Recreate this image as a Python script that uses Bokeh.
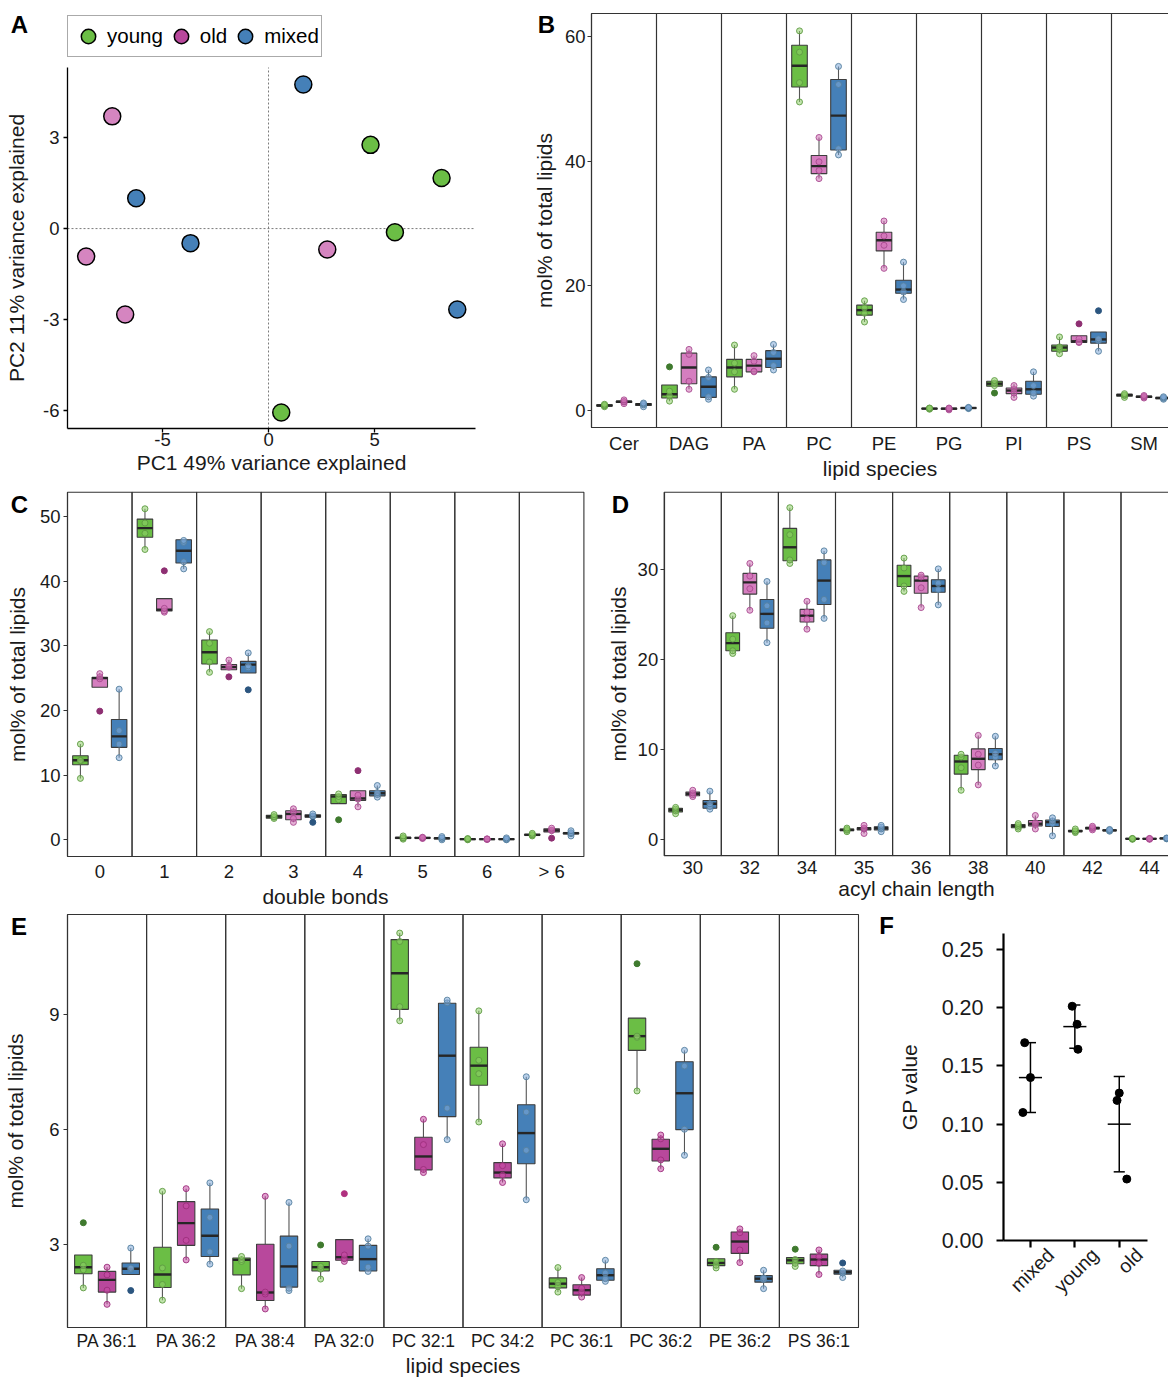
import math
import numpy as np
from bokeh.plotting import figure
from bokeh.layouts import row, column
from bokeh.models import (Range1d, FixedTicker, Label, Legend, LegendItem, LinearAxis,
                          NumeralTickFormatter, ColumnDataSource, BoxAnnotation)
from bokeh.embed import file_html
from bokeh.resources import INLINE

# ======================= DATA =======================
GROUPS = ["young", "old", "mixed"]

# ---- A: PCA scores
A_young_pc1 = [4.81, 8.16, 5.96, 0.60]
A_young_pc2 = [2.76, 1.67, -0.12, -6.06]
A_old_pc1 = [-7.37, -8.60, 2.77, -6.76]
A_old_pc2 = [3.70, -0.92, -0.69, -2.83]
A_mixed_pc1 = [1.64, -6.24, -3.68, 8.90]
A_mixed_pc2 = [4.75, 1.00, -0.48, -2.67]
A_xticks = [-5, 0, 5]
A_yticks = [-6, -3, 0, 3]

# ---- B: lipid classes  (box stats = [lower whisker, Q1, median, Q3, upper whisker])
B_categories = ["Cer", "DAG", "PA", "PC", "PE", "PG", "PI", "PS", "SM"]
B_young_stats = [[0.6, 0.7, 0.8, 0.9, 1.0], [1.5, 2.0, 2.6, 4.1, 4.1], [3.4, 5.4, 6.9, 8.2, 10.5],
                 [49.5, 51.9, 55.3, 58.6, 60.9], [14.2, 15.3, 16.1, 16.9, 17.6], [0.2, 0.25, 0.3, 0.35, 0.4],
                 [3.9, 3.9, 4.3, 4.7, 4.8], [9.1, 9.5, 10.1, 10.5, 11.8], [2.1, 2.3, 2.5, 2.6, 2.7]]
B_old_stats = [[1.1, 1.3, 1.4, 1.5, 1.7], [3.4, 4.3, 6.9, 9.2, 9.8], [6.2, 6.2, 7.2, 8.2, 8.8],
               [37.2, 38.0, 39.2, 40.9, 43.8], [22.8, 25.6, 27.3, 28.6, 30.4], [0.1, 0.2, 0.3, 0.35, 0.4],
               [2.0, 2.7, 3.2, 3.6, 4.2], [10.9, 10.9, 11.1, 12.0, 12.0], [2.0, 2.1, 2.2, 2.3, 2.4]]
B_mixed_stats = [[0.6, 0.8, 1.0, 1.1, 1.2], [1.8, 2.1, 3.8, 5.4, 6.5], [6.5, 6.9, 8.3, 9.6, 10.6],
                 [41.0, 41.8, 47.3, 53.1, 55.2], [17.8, 18.8, 19.4, 20.9, 23.8], [0.3, 0.35, 0.4, 0.45, 0.5],
                 [2.3, 2.6, 3.4, 4.7, 6.2], [9.5, 10.8, 11.4, 12.6, 12.6], [1.8, 1.9, 2.0, 2.1, 2.2]]
B_young_points = [[0.6, 0.75, 0.85, 1.0], [1.5, 2.3, 3.1], [3.4, 6.2, 7.6, 10.5], [49.5, 52.6, 57.5, 60.9],
                  [14.2, 15.6, 16.5, 17.6], [0.2, 0.3, 0.35, 0.4], [4.0, 4.4, 4.8], [9.1, 9.8, 10.2, 11.8],
                  [2.1, 2.4, 2.5, 2.7]]
B_old_points = [[1.1, 1.35, 1.45, 1.7], [3.4, 4.7, 9.0, 9.8], [6.2, 6.3, 7.9, 8.8], [37.2, 38.5, 39.9, 43.8],
                [22.8, 26.5, 28.0, 30.4], [0.1, 0.25, 0.3, 0.4], [2.1, 2.8, 3.4, 4.0], [10.9, 11.0, 11.5],
                [2.0, 2.15, 2.25, 2.4]]
B_mixed_points = [[0.6, 0.9, 1.05, 1.2], [1.8, 2.2, 5.3, 6.5], [6.5, 7.2, 9.3, 10.6], [41.0, 42.0, 52.3, 55.2],
                  [17.8, 19.0, 20.0, 23.8], [0.3, 0.38, 0.42, 0.5], [2.3, 2.8, 4.0, 6.2], [9.5, 11.2, 11.5],
                  [1.8, 1.95, 2.05, 2.2]]
B_young_outliers = [[], [7.0], [], [], [], [], [2.8], [], []]
B_old_outliers = [[], [], [], [], [], [], [], [13.9], []]
B_mixed_outliers = [[], [], [], [], [], [], [], [16.0], []]
B_yticks = [0, 20, 40, 60]

# ---- C: double bonds
C_categories = ["0", "1", "2", "3", "4", "5", "6", "> 6"]
C_young_stats = [[9.5, 11.6, 12.3, 13.0, 14.8], [44.9, 46.8, 48.2, 49.6, 51.2], [25.9, 27.2, 29.0, 30.9, 32.2],
                 [3.3, 3.35, 3.6, 3.8, 3.9], [5.6, 5.6, 6.7, 7.0, 7.1], [0.1, 0.2, 0.3, 0.4, 0.6],
                 [0.0, 0.05, 0.1, 0.15, 0.2], [0.6, 0.7, 0.77, 0.85, 1.0]]
C_old_stats = [[23.6, 23.6, 25.0, 25.15, 25.8], [35.2, 35.4, 35.6, 37.3, 37.3], [26.3, 26.3, 26.7, 27.1, 27.8],
               [2.7, 3.1, 4.0, 4.5, 4.9], [5.1, 6.1, 6.4, 7.6, 7.6], [0.2, 0.25, 0.3, 0.35, 0.4],
               [0.05, 0.08, 0.1, 0.12, 0.15], [1.2, 1.2, 1.45, 1.7, 1.9]]
C_mixed_stats = [[12.7, 14.3, 16.0, 18.6, 23.3], [41.9, 42.8, 44.7, 46.4, 46.5], [25.8, 25.8, 27.1, 27.6, 28.9],
                 [3.5, 3.5, 3.66, 3.87, 4.1], [6.6, 6.8, 7.2, 7.6, 8.4], [0.0, 0.15, 0.25, 0.3, 0.5],
                 [0.0, 0.05, 0.1, 0.15, 0.3], [0.6, 0.9, 1.03, 1.1, 1.4]]
C_young_points = [[9.5, 12.2, 12.3, 14.8], [44.9, 47.4, 49.0, 51.2], [25.9, 27.5, 30.4, 32.2], [3.3, 3.5, 3.6, 3.9],
                  [6.2, 6.7, 7.1], [0.1, 0.25, 0.35, 0.6], [0.0, 0.08, 0.12, 0.2], [0.6, 0.72, 0.8, 1.0]]
C_old_points = [[24.9, 25.2, 25.7], [35.2, 35.4, 35.8], [26.7, 26.9, 27.8], [2.7, 3.3, 4.3, 4.8],
                [5.1, 6.3, 6.9], [0.2, 0.28, 0.32, 0.4], [0.05, 0.09, 0.11, 0.15], [1.4, 1.5, 1.8]]
C_mixed_points = [[12.7, 14.8, 16.9, 23.3], [41.9, 43.0, 46.0, 46.3], [26.6, 26.9, 28.9], [3.6, 3.7, 4.0],
                  [6.6, 7.0, 7.3, 8.4], [0.0, 0.2, 0.28, 0.5], [0.0, 0.08, 0.12, 0.3], [0.6, 0.95, 1.1, 1.4]]
C_young_outliers = [[], [], [], [], [3.1], [], [], []]
C_old_outliers = [[19.9], [41.6], [25.2], [], [10.7], [], [], [0.26]]
C_mixed_outliers = [[], [], [23.2], [2.7], [], [], [], []]
C_yticks = [0, 10, 20, 30, 40, 50]

# ---- D: acyl chain length
D_categories = ["30", "32", "34", "35", "36", "38", "40", "42", "44"]
D_young_stats = [[2.9, 3.1, 3.33, 3.5, 3.6], [20.7, 21.0, 21.85, 23.0, 24.9], [30.7, 31.0, 32.5, 34.6, 36.9],
                 [0.9, 1.0, 1.1, 1.2, 1.3], [27.6, 28.15, 29.3, 30.5, 31.3], [5.5, 7.3, 8.7, 9.4, 9.5],
                 [1.2, 1.33, 1.52, 1.7, 1.8], [0.8, 0.9, 0.96, 1.05, 1.2], [0.05, 0.08, 0.11, 0.13, 0.15]]
D_old_stats = [[4.8, 4.9, 5.1, 5.3, 5.5], [25.5, 27.3, 28.6, 29.6, 30.7], [23.4, 24.2, 24.9, 25.6, 26.5],
               [0.7, 1.1, 1.25, 1.35, 1.6], [25.8, 27.4, 28.8, 29.3, 29.4], [6.1, 7.8, 9.0, 10.1, 11.6],
               [1.2, 1.55, 1.78, 2.15, 2.7], [1.1, 1.2, 1.3, 1.4, 1.5], [0.05, 0.08, 0.11, 0.13, 0.15]]
D_mixed_stats = [[3.4, 3.5, 4.0, 4.37, 5.4], [21.9, 23.5, 25.1, 26.7, 28.7], [24.6, 26.15, 28.8, 31.1, 32.1],
                 [0.9, 1.1, 1.3, 1.45, 1.6], [26.1, 27.5, 28.2, 28.9, 30.1], [8.2, 8.9, 9.5, 10.15, 11.5],
                 [0.44, 1.48, 1.96, 2.2, 2.44], [0.95, 1.0, 1.04, 1.1, 1.15], [0.1, 0.12, 0.15, 0.18, 0.2]]
D_young_points = [[2.9, 3.2, 3.4, 3.6], [20.7, 21.0, 22.3, 24.9], [30.7, 31.1, 33.9, 36.9], [0.9, 1.05, 1.15, 1.3],
                  [27.6, 28.2, 30.2, 31.3], [5.5, 8.0, 9.2, 9.5], [1.2, 1.4, 1.6, 1.8], [0.8, 0.92, 1.0, 1.2],
                  [0.05, 0.1, 0.12, 0.15]]
D_old_points = [[4.8, 5.0, 5.2, 5.5], [25.5, 27.9, 29.3, 30.7], [23.4, 24.5, 25.3, 26.5], [0.7, 1.2, 1.3, 1.6],
                [25.8, 28.0, 29.2, 29.4], [6.1, 8.3, 9.5, 11.6], [1.2, 1.7, 1.9, 2.7], [1.1, 1.25, 1.35, 1.5],
                [0.05, 0.1, 0.12, 0.15]]
D_mixed_points = [[3.4, 3.7, 4.0, 5.4], [21.9, 24.1, 26.0, 28.7], [24.6, 26.7, 30.8, 32.1], [0.9, 1.2, 1.4, 1.6],
                  [26.1, 27.8, 28.5, 30.1], [8.2, 9.2, 9.6, 11.5], [0.44, 1.8, 2.1, 2.44], [0.95, 1.02, 1.08, 1.15],
                  [0.1, 0.14, 0.16, 0.2]]
D_young_outliers = [[] for _ in D_categories]
D_old_outliers = [[] for _ in D_categories]
D_mixed_outliers = [[] for _ in D_categories]
D_yticks = [0, 10, 20, 30]

# ---- E: individual lipid species
E_categories = ["PA 36:1", "PA 36:2", "PA 38:4", "PA 32:0", "PC 32:1", "PC 34:2", "PC 36:1", "PC 36:2",
                "PE 36:2", "PS 36:1"]
E_young_stats = [[1.86, 2.23, 2.40, 2.72, 2.72], [1.54, 1.87, 2.21, 2.92, 4.38], [1.84, 2.2, 2.59, 2.64, 2.69],
                 [2.09, 2.3, 2.4, 2.55, 2.55], [8.83, 9.13, 10.07, 10.95, 11.12], [6.19, 7.15, 7.66, 8.14, 9.09],
                 [1.75, 1.86, 1.97, 2.12, 2.39], [7.0, 8.06, 8.43, 8.9, 8.9], [2.38, 2.44, 2.51, 2.62, 2.62],
                 [2.42, 2.49, 2.58, 2.65, 2.65]]
E_old_stats = [[1.43, 1.75, 2.07, 2.29, 2.40], [2.59, 2.97, 3.55, 4.11, 4.45], [1.31, 1.53, 1.74, 3.0, 4.25],
               [2.55, 2.58, 2.66, 3.12, 3.12], [4.87, 4.94, 5.29, 5.79, 6.26], [4.61, 4.73, 4.87, 5.13, 5.62],
               [1.62, 1.67, 1.8, 1.94, 2.13], [4.97, 5.17, 5.49, 5.74, 5.85], [2.52, 2.76, 3.07, 3.32, 3.4],
               [2.21, 2.44, 2.6, 2.74, 2.85]]
E_mixed_stats = [[2.21, 2.21, 2.36, 2.51, 2.9], [2.48, 2.68, 3.22, 3.92, 4.6], [1.79, 1.88, 2.42, 3.21, 4.09],
                 [2.29, 2.3, 2.61, 2.97, 3.14], [5.73, 6.33, 7.92, 9.29, 9.37], [4.16, 5.1, 5.9, 6.64, 7.37],
                 [2.03, 2.06, 2.19, 2.36, 2.58], [5.32, 5.99, 6.94, 7.76, 8.06], [1.84, 2.01, 2.1, 2.18, 2.32],
                 [2.13, 2.22, 2.27, 2.32, 2.32]]
E_young_points = [[1.86, 2.33, 2.45], [1.54, 1.95, 2.38, 4.38], [1.84, 2.55, 2.6, 2.68], [2.09, 2.35, 2.42],
                  [8.83, 9.2, 10.9, 11.12], [6.19, 7.45, 7.8, 9.09], [1.75, 1.9, 2.0, 2.39], [7.0, 8.4, 8.43],
                  [2.38, 2.45, 2.55], [2.42, 2.5, 2.6]]
E_old_points = [[1.43, 1.8, 2.2, 2.4], [2.59, 3.1, 4.0, 4.45], [1.31, 1.7, 1.75, 4.25], [2.55, 2.62, 2.72],
                [4.87, 4.95, 5.6, 6.26], [4.61, 4.8, 5.05, 5.62], [1.62, 1.75, 1.85, 2.13], [4.97, 5.2, 5.75, 5.85],
                [2.52, 2.85, 3.3, 3.4], [2.21, 2.5, 2.68, 2.85]]
E_mixed_points = [[2.35, 2.38, 2.9], [2.48, 2.8, 3.7, 4.6], [1.79, 1.85, 2.95, 4.09], [2.29, 2.4, 2.95, 3.14],
                  [5.73, 6.55, 9.3, 9.37], [4.16, 5.45, 6.45, 7.37], [2.03, 2.1, 2.25, 2.58], [5.32, 6.0, 7.65, 8.06],
                  [1.84, 2.08, 2.12, 2.32], [2.13, 2.25, 2.3]]
E_young_outliers = [[3.56], [], [], [2.98], [], [], [], [10.32], [2.92], [2.87]]
E_old_outliers = [[], [], [], [4.32], [], [], [], [], [], []]
E_mixed_outliers = [[1.79], [], [], [], [], [], [], [], [], [2.51]]
E_yticks = [3, 6, 9]

# ---- F: GP values
F_groups = ["mixed", "young", "old"]
F_mixed = [0.110, 0.170, 0.140]
F_young = [0.2013, 0.1858, 0.1643]
F_old = [0.1204, 0.1267, 0.0528]
F_yticks = [0.0, 0.05, 0.10, 0.15, 0.20, 0.25]

# ======================= STYLE =======================
FONT = "Liberation Sans"
TXT = "#1a1a1a"
LINE = "#333333"
GREEN = "#6BBE45"
PINK_LIGHT = "#D57EBF"
PINK = "#B8489C"
BLUE = "#4580B8"


def make_fig(box, frame, xd, yd):
    """box = (left, top, width, height) on the page; frame = (left, right, top, bottom) pixel
    position of the data area on the page; the plotting frame fills the whole canvas."""
    L, T, W, H = box
    fl, fr, ft, fb = frame
    kx = (xd[1] - xd[0]) / (fr - fl)
    ky = (yd[1] - yd[0]) / (fb - ft)
    xr = Range1d(xd[0] - (fl - L) * kx, xd[1] + (L + W - fr) * kx)
    yr = Range1d(yd[0] - (T + H - fb) * ky, yd[1] + (ft - T) * ky)
    p = figure(width=W, height=H, x_range=xr, y_range=yr, output_backend="svg", toolbar_location=None,
               min_border_left=0, min_border_right=0, min_border_top=0, min_border_bottom=0)
    p.xgrid.visible = False
    p.ygrid.visible = False
    p.outline_line_color = None
    p.background_fill_color = "white"
    p.border_fill_color = "white"
    p.xaxis.fixed_location = yd[0]
    p.xaxis.bounds = tuple(xd)
    p.yaxis.fixed_location = xd[0]
    p.yaxis.bounds = tuple(yd)
    return p


def style_axis(ax, tick_fs="18.5px", label_fs="21px", color=LINE, lw=1.2, tick_out=4, standoff=2, lstand=2):
    ax.axis_line_color = color
    ax.axis_line_width = lw
    ax.major_tick_line_color = color
    ax.major_tick_line_width = lw
    ax.major_tick_out = int(round(tick_out))
    ax.major_tick_in = 0
    ax.minor_tick_line_color = None
    ax.major_label_text_font = FONT
    ax.major_label_text_font_size = tick_fs
    ax.major_label_text_color = TXT
    ax.major_label_standoff = int(round(standoff))
    ax.axis_label_text_font = FONT
    ax.axis_label_text_font_size = label_fs
    ax.axis_label_text_font_style = "normal"
    ax.axis_label_text_color = TXT
    ax.axis_label_standoff = int(round(lstand))


def add_letter(p, box, letter, px, py):
    L, T, W, H = box
    p.add_layout(Label(x=px - L, y=T + H - py, x_units="screen", y_units="screen", text=letter,
                       text_font=FONT, text_font_size="24px", text_font_style="bold",
                       text_color="black", text_align="center", text_baseline="middle"))


def facet_panel(box, frame, cats, stats, pts, outs, box_cols, pt_fill, pt_line, out_fill,
                yd, n_facets, yticks, xlabel, xtick_fs, bw, xstand, xlstand, ystand, ylstand):
    n = len(cats)
    p = make_fig(box, frame, (0, n_facets), yd)
    offs = [0.2, 0.5, 0.8]
    for i in range(n_facets):
        p.add_layout(BoxAnnotation(left=i, right=i + 1, bottom=yd[0], top=yd[1], fill_color=None,
                                   line_color=LINE, line_alpha=1.0, line_width=1.1))
    for g in range(3):
        xs = [i + offs[g] for i in range(n)]
        src = ColumnDataSource(dict(
            x=xs, x0=[x - bw / 2 for x in xs], x1=[x + bw / 2 for x in xs],
            lo=[s[0] for s in stats[g]], q1=[s[1] for s in stats[g]], med=[s[2] for s in stats[g]],
            q3=[s[3] for s in stats[g]], hi=[s[4] for s in stats[g]]))
        p.segment("x", "q3", "x", "hi", source=src, line_color="#555555", line_width=1.1)
        p.segment("x", "lo", "x", "q1", source=src, line_color="#555555", line_width=1.1)
        p.vbar(x="x", width=bw, bottom="q1", top="q3", source=src, fill_color=box_cols[g],
               line_color="#3d3d3d", line_width=1.1)
        p.segment("x0", "med", "x1", "med", source=src, line_color="#262626", line_width=2.4)
        px, py = [], []
        for i in range(n):
            for v in pts[g][i]:
                px.append(xs[i]); py.append(v)
        p.scatter(px, py, size=6, fill_color=pt_fill[g], fill_alpha=0.55, line_color=pt_line[g],
                  line_alpha=0.9, line_width=1)
        ox, oy = [], []
        for i in range(n):
            for v in outs[g][i]:
                ox.append(xs[i]); oy.append(v)
        if ox:
            p.scatter(ox, oy, size=6, fill_color=out_fill[g], line_color=out_fill[g], line_width=1)
    xa = p.xaxis[0]
    style_axis(xa, tick_fs=xtick_fs, tick_out=0, standoff=xstand, lstand=xlstand)
    xa.ticker = FixedTicker(ticks=[i + 0.5 for i in range(n)])
    xa.major_label_overrides = {i + 0.5: c for i, c in enumerate(cats)}
    xa.major_tick_line_color = None
    xa.axis_label = xlabel
    ya = p.yaxis[0]
    style_axis(ya, tick_out=4, standoff=ystand, lstand=ylstand)
    ya.ticker = FixedTicker(ticks=yticks)
    ya.axis_label = "mol% of total lipids"
    return p


PT_FILL_LIGHT = ["#8FD06A", "#D070B5", "#7FA9D8"]
PT_LINE_LIGHT = ["#5E9A42", "#A84A90", "#55809F"]
OUT_LIGHT = ["#3F7A2E", "#8E2F72", "#2B557F"]

# ======================= PANEL A =======================
boxA = (0, 0, 530, 480)
A_xd, A_yd = (-9.48, 9.76), (-6.59, 5.31)
pA = make_fig(boxA, (67, 475, 67, 428), A_xd, A_yd)
pA.segment(x0=[0, A_xd[0]], y0=[A_yd[0], 0], x1=[0, A_xd[1]], y1=[A_yd[1], 0],
           line_color="#7a7a7a", line_dash="2 2", line_width=1)
for xs, ys, col in [(A_young_pc1, A_young_pc2, GREEN), (A_old_pc1, A_old_pc2, "#D585C0"),
                    (A_mixed_pc1, A_mixed_pc2, BLUE)]:
    pA.scatter(xs, ys, size=17, fill_color=col, line_color="black", line_width=1.5)
# legend swatches (no visible points of their own)
leg_rs = []
for col in [GREEN, PINK, BLUE]:
    leg_rs.append(pA.scatter(np.array([np.nan]), np.array([np.nan]), size=17, fill_color=col,
                             line_color="black", line_width=1.5))
legend = Legend(items=[LegendItem(label=g, renderers=[r]) for g, r in zip(GROUPS, leg_rs)],
                orientation="horizontal", location=(67, 480 - 57),
                glyph_width=36, glyph_height=36, padding=2, spacing=0, label_standoff=1, margin=0,
                label_text_font=FONT, label_text_font_size="20.5px", label_text_color="black",
                border_line_color="#555555", border_line_width=1, background_fill_alpha=1)
pA.add_layout(legend)
xa = pA.xaxis[0]
style_axis(xa, color="black", lw=1.3, tick_out=4, standoff=0, lstand=2)
xa.ticker = FixedTicker(ticks=A_xticks)
xa.major_label_overrides = {v: str(v) for v in A_xticks}
xa.axis_label = "PC1 49% variance explained"
ya = pA.yaxis[0]
style_axis(ya, color="black", lw=1.3, tick_out=4, standoff=4, lstand=12)
ya.ticker = FixedTicker(ticks=A_yticks)
ya.major_label_overrides = {v: str(v) for v in A_yticks}
ya.axis_label = "PC2 11% variance explained"
add_letter(pA, boxA, "A", 19, 24)

# ======================= PANEL B =======================
boxB = (530, 0, 638, 480)
pB = facet_panel(boxB, (591, 591 + 9 * 65.0, 13, 427), B_categories,
                 [B_young_stats, B_old_stats, B_mixed_stats],
                 [B_young_points, B_old_points, B_mixed_points],
                 [B_young_outliers, B_old_outliers, B_mixed_outliers],
                 [GREEN, PINK_LIGHT, BLUE], PT_FILL_LIGHT, PT_LINE_LIGHT, OUT_LIGHT,
                 (-2.73, 63.69), 9, B_yticks, "lipid species", "18.5px", 0.24, 5, 0, 2, 6)
add_letter(pB, boxB, "B", 546, 23.5)

# ======================= PANEL C =======================
boxC = (0, 480, 590, 430)
pC = facet_panel(boxC, (67, 583.4, 491.7, 856), C_categories,
                 [C_young_stats, C_old_stats, C_mixed_stats],
                 [C_young_points, C_old_points, C_mixed_points],
                 [C_young_outliers, C_old_outliers, C_mixed_outliers],
                 [GREEN, PINK_LIGHT, BLUE], PT_FILL_LIGHT, PT_LINE_LIGHT, OUT_LIGHT,
                 (-2.58, 53.76), 8, C_yticks, "double bonds", "18.5px", 0.24, 4, 0, 3, 8)
add_letter(pC, boxC, "C", 19, 503.5)

# ======================= PANEL D =======================
boxD = (590, 480, 578, 430)
pD = facet_panel(boxD, (663.7, 663.7 + 9 * 57.1, 491.7, 855.3), D_categories,
                 [D_young_stats, D_old_stats, D_mixed_stats],
                 [D_young_points, D_old_points, D_mixed_points],
                 [D_young_outliers, D_old_outliers, D_mixed_outliers],
                 [GREEN, PINK_LIGHT, BLUE], PT_FILL_LIGHT, PT_LINE_LIGHT, OUT_LIGHT,
                 (-1.78, 38.62), 9, D_yticks, "acyl chain length", "18.5px", 0.24, 5, 0, 2, 5)
add_letter(pD, boxD, "D", 620, 503.5)

# ======================= PANEL E =======================
boxE = (0, 910, 870, 468)
pE = facet_panel(boxE, (67, 858, 914, 1327), E_categories,
                 [E_young_stats, E_old_stats, E_mixed_stats],
                 [E_young_points, E_old_points, E_mixed_points],
                 [E_young_outliers, E_old_outliers, E_mixed_outliers],
                 [GREEN, PINK, BLUE], ["#8FD06A", "#C94DA5", "#7FA9D8"],
                 ["#5E9A42", "#9C2F7C", "#55809F"], ["#3F7A2E", "#B0307F", "#2B557F"],
                 (0.826, 11.605), 10, E_yticks, "lipid species", "17.5px", 0.22, 3, 0, 4, 19)
add_letter(pE, boxE, "E", 18.5, 925.5)

# ======================= PANEL F =======================
boxF = (870, 910, 298, 468)
F_xd, F_yd = (0.393, 3.636), (0.0, 0.2638)
pF = make_fig(boxF, (1003, 1147, 933, 1240), F_xd, F_yd)
F_jitter = [[-0.17, -0.13, 0.0], [-0.06, 0.05, 0.07], [-0.05, 0.0, 0.17]]
F_vals = [F_mixed, F_young, F_old]
for gi, vals in enumerate(F_vals):
    pF.scatter([gi + 1 + j for j in F_jitter[gi]], vals, size=8, fill_color="black", line_color="black")
gx = np.arange(1, len(F_vals) + 1, dtype=float)
means = np.array([np.mean(v) for v in F_vals])
sds = np.array([np.std(v, ddof=1) for v in F_vals])
pF.segment(gx - 0.26, means, gx + 0.26, means, line_color="black", line_width=1.5)
pF.segment(gx, means - sds, gx, means + sds, line_color="black", line_width=1.5)
pF.segment(gx - 0.125, means - sds, gx + 0.125, means - sds, line_color="black", line_width=1.5)
pF.segment(gx - 0.125, means + sds, gx + 0.125, means + sds, line_color="black", line_width=1.5)
xa = pF.xaxis[0]
style_axis(xa, tick_fs="19px", color="black", lw=2.2, tick_out=7, standoff=4, lstand=0)
xa.ticker = FixedTicker(ticks=[1, 2, 3])
xa.major_label_overrides = {i + 1: "" for i in range(len(F_groups))}
F_LABEL_SHIFT = 0.45
lab_ticks = [i + 1 + F_LABEL_SHIFT for i in range(len(F_groups))]
lab_axis = LinearAxis(fixed_location=F_yd[0], bounds=F_xd, ticker=FixedTicker(ticks=lab_ticks),
                      major_label_overrides={t: g for t, g in zip(lab_ticks, F_groups)},
                      major_label_orientation=math.pi / 4)
style_axis(lab_axis, tick_fs="19.5px", color="black", tick_out=0, standoff=11, lstand=0)
lab_axis.axis_line_color = None
lab_axis.major_tick_line_color = None
pF.add_layout(lab_axis, "below")
ya = pF.yaxis[0]
style_axis(ya, tick_fs="21.5px", label_fs="21px", color="black", lw=2.2, tick_out=7, standoff=13, lstand=18)
ya.ticker = FixedTicker(ticks=F_yticks)
ya.formatter = NumeralTickFormatter(format="0.00")
ya.axis_label = "GP value"
add_letter(pF, boxF, "F", 886, 924.5)

layout = column(row(pA, pB, spacing=0), row(pC, pD, spacing=0), row(pE, pF, spacing=0), spacing=0)
open("out.html", "w").write(file_html(layout, INLINE, title="Lipidomics figure"))
